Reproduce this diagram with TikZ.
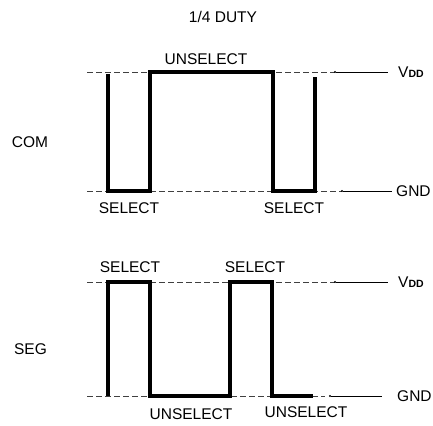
\documentclass[tikz,border=0pt]{standalone}
\usepackage{fontspec}
\setmainfont{Liberation Sans}
\begin{document}
\begin{tikzpicture}[x=1pt,y=-1pt]
        \tikzstyle{txt}=[font=\fontsize{15.5}{18}\selectfont,inner sep=0pt]
        \tikzstyle{level}=[draw=black!75,dash pattern=on 6pt off 3pt,line width=0.7pt]
        \tikzstyle{lead}=[draw,line width=0.7pt]
        \tikzstyle{wave}=[draw,line width=3.4pt,line join=miter]
        \tikzstyle{dotmark}=[circle,fill,inner sep=0pt,minimum size=2.2pt]
        \useasboundingbox (0,0) rectangle (433,425);
        % title and row names
        \node [txt] (title) at (223,17) {1/4 DUTY};
        \node [txt] (com) at (30,142) {COM};
        \node [txt] (seg) at (30.5,349) {SEG};
        \begin{scope}
           \path[level] (87,72) -- (335,72);
           \path[level] (87,191) -- (342,191);
           \path[wave] (108,74) -- (108,191) -- (150,191) -- (150,72) -- (273,72)
              -- (273,191) -- (315,191) -- (315,77);
           \node [dotmark] (comvddtap) at (335,72) {};
           \node [dotmark] (comgndtap) at (342,191) {};
           \node [txt,anchor=west] (comvdd) at (398,72) {V{\fontsize{10.5}{10}\selectfont\bfseries DD}};
           \node [txt,anchor=west] (comgnd) at (396,191) {GND};
           \path[lead] (comvddtap) -- ([xshift=-10pt]comvdd.west);
           \path[lead] (comgndtap) -- ([xshift=-4pt]comgnd.west);
           \node [txt] (comunsel) at (206,59) {UNSELECT};
           \node [txt] (comsel1) at (129,208) {SELECT};
           \node [txt] (comsel2) at (294,208) {SELECT};
        \end{scope}
        \begin{scope}
           \path[level] (87,282) -- (335,282);
           \path[level] (87,396) -- (325,396);
           \path[wave] (108,396) -- (108,282) -- (150,282) -- (150,396) -- (230,396)
              -- (230,282) -- (272,282) -- (272,396) -- (313,396);
           \node [dotmark] (segvddtap) at (335,282) {};
           \node [dotmark] (seggndtap) at (330,396) {};
           \node [txt,anchor=west] (segvdd) at (398,282) {V{\fontsize{10.5}{10}\selectfont\bfseries DD}};
           \node [txt,anchor=west] (seggnd) at (397,396) {GND};
           \path[lead] (segvddtap) -- ([xshift=-10pt]segvdd.west);
           \path[lead] (seggndtap) -- ([xshift=-15pt]seggnd.west);
           \node [txt] (segsel1) at (130,267) {SELECT};
           \node [txt] (segsel2) at (255,267) {SELECT};
           \node [txt] (segunsel1) at (191,414) {UNSELECT};
           \node [txt] (segunsel2) at (306,412) {UNSELECT};
        \end{scope}
\end{tikzpicture}
\end{document}
